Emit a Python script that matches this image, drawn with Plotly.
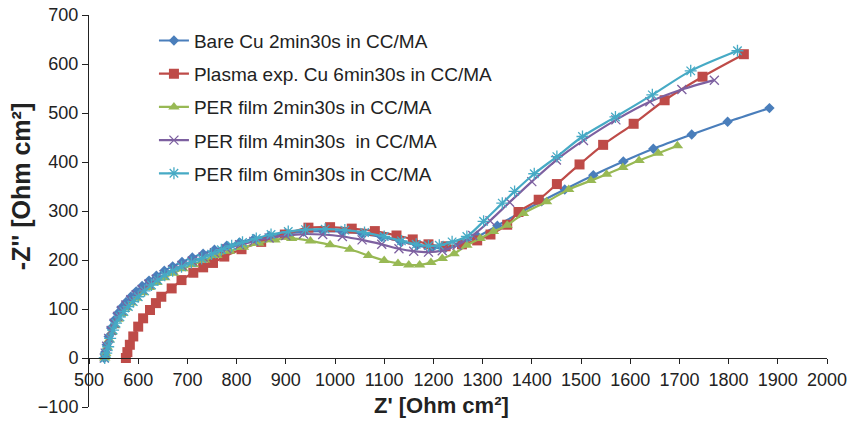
import plotly.graph_objects as go

# ---------------- data ----------------
names = [
    "Bare Cu 2min30s in CC/MA",
    "Plasma exp. Cu 6min30s in CC/MA",
    "PER film 2min30s in CC/MA",
    "PER film 4min30s  in CC/MA",
    "PER film 6min30s in CC/MA",
]

bare_x = [531, 533, 536, 540, 545, 551, 558, 566, 575, 585, 596, 608, 622, 637, 653, 670, 689, 710, 732, 755,
          780, 806, 835, 866, 900, 936, 975, 1015, 1055, 1095, 1133, 1167, 1197, 1225, 1255, 1290, 1330, 1375,
          1420, 1467, 1525, 1586, 1647, 1725, 1798, 1883]
bare_y = [0, 12, 27, 44, 61, 77, 91, 103, 114, 125, 136, 147, 158, 168, 178, 187, 196, 205, 213, 221,
          229, 236, 243, 249, 254, 258, 259, 258, 254, 247, 238, 230, 225, 225, 233, 248, 270, 296,
          320, 344, 373, 401, 427, 456, 482, 510]

plasma_x = [575, 578, 583, 590, 600, 610, 624, 636, 647, 668, 688, 712, 732, 752, 775, 810, 850, 898, 946, 990,
            1034, 1081, 1125, 1158, 1190, 1225, 1258, 1289, 1316, 1350, 1373, 1414, 1451, 1497, 1545, 1607,
            1670, 1747, 1831]
plasma_y = [0, 12, 27, 44, 64, 81, 98, 112, 125, 142, 159, 174, 185, 194, 207, 222, 237, 252, 266, 267,
            264, 259, 250, 242, 232, 228, 232, 240, 252, 272, 298, 323, 355, 395, 435, 478,
            526, 574, 620]

per2_x = [532, 534, 537, 541, 546, 552, 559, 567, 576, 586, 597, 609, 623, 638, 654, 672, 691, 712, 735, 760,
          786, 814, 845, 878, 912, 950, 990, 1030, 1068, 1100, 1128, 1150, 1172, 1195, 1218, 1242, 1268,
          1295, 1322, 1350, 1383, 1430, 1475, 1520, 1552, 1585, 1618, 1657, 1696]
per2_y = [0, 9, 22, 37, 52, 66, 79, 91, 102, 112, 122, 133, 144, 154, 164, 173, 182, 191, 200, 209,
          218, 226, 234, 241, 244, 239, 231, 222, 209, 199, 193, 190, 190, 195, 203, 213, 230,
          244, 258, 271, 295, 319, 344, 362, 375, 389, 403, 418, 433]

per4_x = [531, 533, 536, 540, 545, 551, 558, 566, 575, 585, 596, 608, 622, 637, 653, 670, 689, 710, 732, 755,
          780, 806, 835, 866, 900, 936, 975, 1015, 1055, 1095, 1130, 1160, 1190, 1218, 1248, 1280, 1315,
          1355, 1400, 1450, 1505, 1571, 1640, 1705, 1771]
per4_y = [0, 10, 24, 40, 56, 71, 85, 97, 108, 119, 129, 140, 151, 161, 170, 180, 189, 198, 206, 215,
          223, 231, 238, 245, 250, 253, 252, 248, 241, 232, 223, 218, 216, 219, 230, 250, 280,
          318, 360, 404, 444, 486, 523, 548, 567]

per6_x = [532, 535, 539, 543, 549, 555, 563, 571, 580, 590, 600, 613, 627, 640, 654, 670, 688, 708, 729, 749,
          769, 790, 812, 840, 870, 905, 940, 980, 1020, 1060, 1100, 1135, 1165, 1190, 1212, 1238, 1268,
          1302, 1340, 1365, 1405, 1451, 1503, 1570, 1645, 1723, 1818]
per6_y = [0, 10, 23, 40, 57, 71, 84, 95, 105, 115, 125, 137, 149, 159, 169, 178, 186, 195, 203, 212,
          221, 229, 236, 244, 252, 258, 262, 263, 261, 256, 248, 239, 232, 229, 230, 237, 248,
          279, 316, 340, 376, 411, 452, 492, 537, 586, 627]

x_ticks = list(range(500, 2001, 100))
y_ticks = list(range(-100, 701, 100))

# ---------------- styling ----------------
colors = ["#4A7EBB", "#BE4B48", "#98B954", "#7D60A0", "#46AAC5"]
symbols = ["diamond", "square", "triangle-up", "x-thin-open", "asterisk-open"]
sizes = [8, 10, 10, 9, 10]
series = [(bare_x, bare_y), (plasma_x, plasma_y), (per2_x, per2_y), (per4_x, per4_y), (per6_x, per6_y)]

FONT = "Liberation Sans, Arial, sans-serif"

fig = go.Figure()
for i, (xs, ys) in enumerate(series):
    open_sym = symbols[i].endswith("open")
    fig.add_trace(go.Scatter(
        x=xs, y=ys, name=names[i], mode="lines+markers",
        line=dict(color=colors[i], width=2.2, shape="spline", smoothing=0.8),
        marker=dict(symbol=symbols[i], size=sizes[i], color=colors[i],
                    line=dict(color=colors[i], width=1.3 if open_sym else 0)),
        legendgroup=f"g{i}",
    ))

fig.update_layout(
    template="none",
    width=847, height=421,
    margin=dict(l=89, r=20, t=15, b=14, autoexpand=False),
    paper_bgcolor="white", plot_bgcolor="white",
    font=dict(family=FONT, size=18, color="#222"),
    showlegend=True,
    legend=dict(x=0.088, y=0.983, xanchor="left", yanchor="top",
                font=dict(size=19, color="#222"), bgcolor="rgba(0,0,0,0)",
                tracegroupgap=5.5, itemwidth=30, borderwidth=0),
    xaxis=dict(range=[500, 2000], tickvals=x_ticks, ticks="outside", ticklen=5,
               showline=True, linecolor="#222", linewidth=1, tickcolor="#222",
               showgrid=False, zeroline=False, anchor="free", position=0.125,
               tickfont=dict(size=18), automargin=False, ticklabeloverflow="allow"),
    yaxis=dict(range=[-100, 700], tickvals=y_ticks, ticks="outside", ticklen=6,
               showline=True, linecolor="#222", linewidth=1, tickcolor="#222",
               showgrid=False, zeroline=False, tickfont=dict(size=18), automargin=False,
               ticklabeloverflow="allow"),
    annotations=[
        dict(text="<b>Z' [Ohm cm²]</b>", xref="paper", yref="paper", x=0.477, y=0.005,
             xanchor="center", yanchor="middle", showarrow=False, font=dict(size=22, color="#222")),
        dict(text="<b>-Z'' [Ohm cm²]</b>", xref="paper", yref="paper", x=-0.092, y=0.561,
             xanchor="center", yanchor="middle", textangle=-90, showarrow=False,
             font=dict(size=25, color="#222")),
    ],
)

fig.write_html("out.html", config={"displayModeBar": False},
               post_script="document.body.style.margin='0';")
